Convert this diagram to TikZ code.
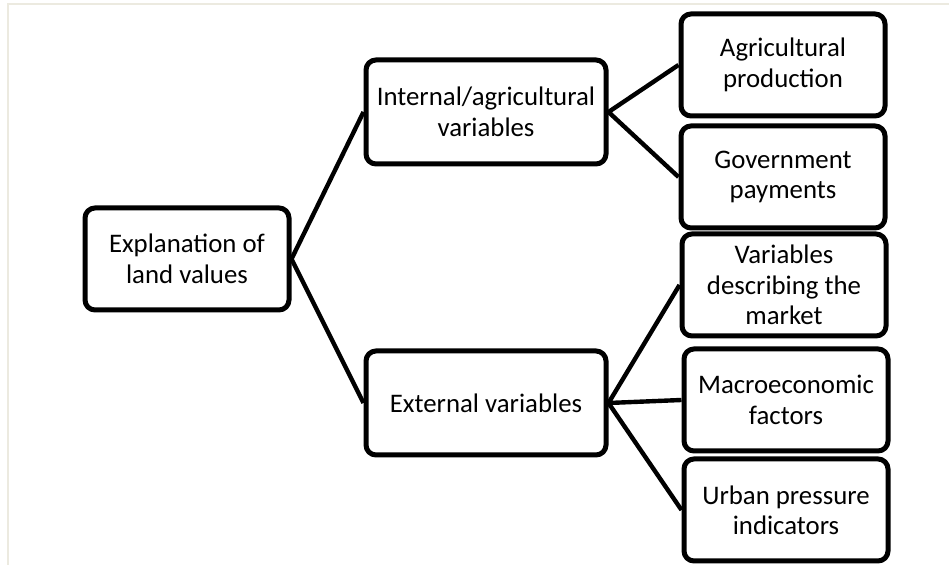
\documentclass[tikz,border=0pt]{standalone}
\usepackage{xcolor}
\usepackage{fontspec}
\setmainfont{Carlito}
\usepackage{tikz}

\definecolor{framegray}{RGB}{236,234,224}

\tikzset{
	box/.style={draw, line width=2.5pt, rounded corners=5pt, align=center,
		minimum width=102pt, minimum height=51pt, inner sep=1pt,
		font=\fontsize{13.4}{15.2}\selectfont},
	midbox/.style={box, minimum width=120pt, minimum height=52pt},
	link/.style={line width=2.2pt}
}

\begin{document}
\begin{tikzpicture}
	[x=0.5pt, y=-0.5pt, every node/.style={text=black}]
	\useasboundingbox (0,0) rectangle (949,565);
	\draw[framegray, line width=1pt] (8,565) -- (8,4) -- (949,4);
	% root and middle level
	\node[box] (land) at (187,259) {Explanation of\\land values};
	\node[midbox] (internal) at (486,112) {Internal/agricultural\\variables};
	\node[midbox] (external) at (486,403) {External variables};
	% leaves
	\node[box] (prod) at (783,65) {Agricultural\\production};
	\node[box] (gov) at (783,177) {Government\\payments};
	\node[box] (market) at (784,285) {Variables\\describing the\\market};
	\node[box] (macro) at (786,400) {Macroeconomic\\factors};
	\node[box] (urban) at (786,510) {Urban pressure\\indicators};
	% links
	\draw[link] (internal.west) -- (land.east) -- (external.west);
	\draw[link] (prod.west) -- (internal.east) -- (gov.west);
	\draw[link] (market.west) -- (external.east) -- (macro.west);
	\draw[link] (external.east) -- (urban.west);
\end{tikzpicture}
\end{document}
